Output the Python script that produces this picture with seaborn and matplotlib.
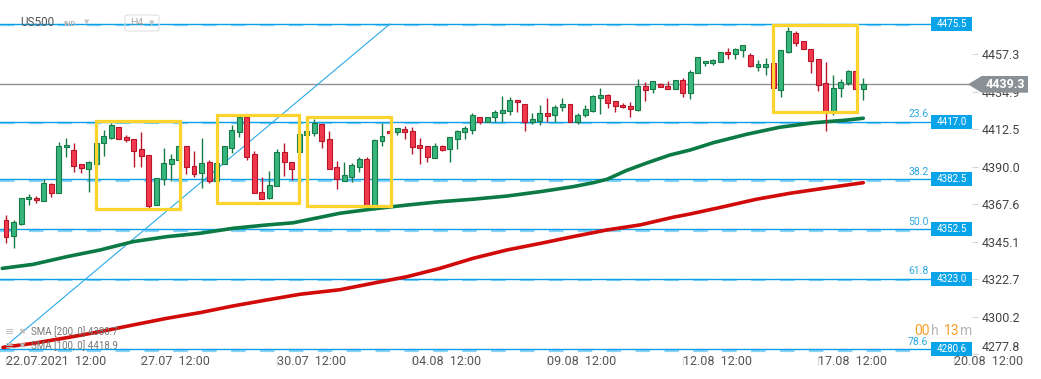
import matplotlib
matplotlib.use("Agg")
import matplotlib.pyplot as plt
from matplotlib.patches import Rectangle, Polygon, FancyBboxPatch
from matplotlib.transforms import blended_transform_factory
import seaborn as sns
import numpy as np
import pandas as pd

# US500, H4 candles from 22.07.2021 12:00 (index 0 = first candle)
opens = [4358.1, 4348.5, 4355.8, 4370.5, 4371.2, 4369.3, 4379.4, 4374.1, 4401.6, 4399.8,
         4391.4, 4388.4, 4391.4, 4404.0, 4407.0, 4413.6, 4407.6, 4406.4, 4400.4, 4396.8,
         4366.9, 4382.4, 4391.4, 4394.0, 4402.4, 4390.2, 4386.0, 4392.6, 4381.2, 4391.4,
         4401.4, 4410.9, 4419.6, 4397.4, 4374.6, 4371.0, 4378.2, 4398.6, 4392.6, 4398.6,
         4408.8, 4410.3, 4415.6, 4406.4, 4389.6, 4381.6, 4384.0, 4390.0, 4394.4, 4365.1,
         4405.2, 4411.4, 4410.6, 4412.4, 4411.4, 4402.8, 4402.2, 4395.0, 4402.2, 4400.4,
         4406.4, 4410.9, 4412.1, 4419.9, 4416.6, 4419.6, 4422.0, 4423.2, 4430.1, 4427.3,
         4416.7, 4417.5, 4422.0, 4420.8, 4425.6, 4427.3, 4416.7, 4420.8, 4423.5, 4431.3,
         4432.7, 4429.1, 4426.7, 4426.1, 4423.9, 4438.5, 4436.3, 4439.3, 4438.3, 4436.7,
         4441.9, 4434.0, 4445.9, 4451.9, 4451.9, 4452.5, 4458.7, 4457.3, 4459.7, 4456.9,
         4449.5, 4449.9, 4451.9, 4436.1, 4458.7, 4469.9, 4465.1, 4460.3, 4454.3, 4439.9,
         4423.5, 4437.3, 4440.3, 4447.3, 4436.3]
highs = [4361.1, 4358.1, 4371.1, 4373.5, 4372.3, 4382.4, 4380.2, 4404.6, 4407.2, 4404.0,
         4391.4, 4393.4, 4404.0, 4412.0, 4416.3, 4413.6, 4409.0, 4406.4, 4410.8, 4396.8,
         4383.0, 4401.2, 4397.4, 4402.4, 4402.4, 4399.4, 4407.2, 4393.8, 4392.0, 4402.2,
         4415.0, 4419.6, 4419.6, 4399.4, 4383.6, 4387.6, 4400.4, 4404.2, 4392.6, 4409.6,
         4411.2, 4418.4, 4415.6, 4411.4, 4393.4, 4392.8, 4392.0, 4396.0, 4396.0, 4406.6,
         4416.1, 4411.4, 4413.0, 4414.4, 4413.6, 4407.2, 4402.2, 4404.2, 4403.0, 4408.0,
         4412.0, 4414.5, 4422.3, 4419.9, 4419.9, 4424.0, 4432.3, 4431.5, 4430.1, 4427.3,
         4422.0, 4426.9, 4431.0, 4426.9, 4431.0, 4427.3, 4422.3, 4426.9, 4432.9, 4437.1,
         4433.5, 4429.1, 4427.9, 4428.7, 4442.3, 4440.7, 4441.1, 4440.0, 4441.1, 4441.7,
         4442.9, 4447.9, 4455.5, 4453.1, 4454.5, 4458.5, 4460.9, 4461.1, 4462.9, 4458.1,
         4453.9, 4455.1, 4451.9, 4459.7, 4473.8, 4471.1, 4465.1, 4460.3, 4454.3, 4452.7,
         4444.9, 4442.3, 4447.9, 4447.3, 4442.9]
lows = [4344.1, 4341.5, 4355.1, 4367.0, 4368.1, 4369.3, 4372.0, 4374.1, 4396.0, 4387.0,
        4386.4, 4375.0, 4391.4, 4396.6, 4406.4, 4406.4, 4404.6, 4390.0, 4390.0, 4365.4,
        4366.9, 4379.0, 4381.6, 4394.0, 4385.6, 4383.6, 4377.2, 4380.0, 4381.2, 4391.4,
        4398.0, 4407.9, 4394.0, 4374.1, 4370.6, 4370.5, 4378.2, 4384.6, 4382.0, 4398.6,
        4408.8, 4408.4, 4401.4, 4388.8, 4376.8, 4381.6, 4381.0, 4387.0, 4366.0, 4364.1,
        4402.6, 4410.2, 4409.1, 4406.7, 4397.6, 4391.4, 4393.0, 4395.0, 4399.6, 4393.0,
        4400.8, 4406.6, 4409.6, 4415.4, 4416.6, 4416.9, 4416.9, 4421.1, 4422.9, 4411.5,
        4415.5, 4415.1, 4416.6, 4416.9, 4423.5, 4416.7, 4415.5, 4419.6, 4422.9, 4421.7,
        4425.0, 4422.9, 4425.0, 4419.9, 4423.5, 4429.3, 4434.3, 4437.5, 4436.7, 4436.7,
        4431.9, 4430.3, 4445.9, 4450.5, 4451.0, 4452.5, 4454.3, 4454.3, 4455.5, 4449.5,
        4447.5, 4445.1, 4436.9, 4431.9, 4458.2, 4462.3, 4460.3, 4446.3, 4435.5, 4411.5,
        4420.9, 4431.9, 4438.9, 4436.3, 4429.9]
closes = [4347.7, 4356.7, 4371.1, 4371.8, 4369.9, 4380.2, 4374.1, 4402.2, 4403.0, 4390.2,
          4389.0, 4392.6, 4404.0, 4408.4, 4415.0, 4406.7, 4405.8, 4399.2, 4396.2, 4366.6,
          4383.0, 4392.0, 4394.4, 4402.4, 4389.6, 4385.6, 4392.2, 4381.2, 4392.0, 4402.2,
          4412.0, 4419.6, 4396.0, 4374.1, 4370.6, 4379.0, 4398.6, 4392.6, 4388.8, 4409.6,
          4411.2, 4416.0, 4405.5, 4388.8, 4382.8, 4384.8, 4390.8, 4394.4, 4366.0, 4406.0,
          4408.2, 4410.2, 4413.0, 4410.6, 4401.6, 4401.4, 4395.6, 4402.2, 4400.0, 4407.6,
          4411.4, 4413.0, 4420.9, 4416.6, 4419.9, 4422.6, 4424.0, 4430.1, 4428.5, 4416.7,
          4418.4, 4422.0, 4420.3, 4425.6, 4427.3, 4416.7, 4420.8, 4424.4, 4432.1, 4432.7,
          4428.3, 4426.5, 4425.6, 4424.4, 4438.5, 4435.9, 4441.1, 4437.9, 4436.7, 4441.7,
          4434.0, 4446.5, 4455.5, 4453.1, 4453.9, 4458.5, 4457.3, 4460.5, 4462.9, 4450.3,
          4451.3, 4451.3, 4436.9, 4459.7, 4471.1, 4464.2, 4460.3, 4453.5, 4438.9, 4423.5,
          4436.9, 4440.7, 4447.3, 4436.3, 4439.3]

# moving averages (candle index, price)
sma100_x = [-0.5, 3.6, 8.1, 12.5, 16.9, 21.4, 25.8, 30.2, 34.7, 38.2, 44.4, 48.8, 53.3,
            57.7, 62.1, 66.6, 71.0, 75.4, 78.1, 79.9, 82.5, 85.2, 88.3, 91.0, 94.1, 98.5,
            102.9, 107.4, 111.8, 114.0]
sma100_y = [4329.1, 4331.5, 4336.1, 4340.1, 4345.1, 4348.1, 4350.1, 4353.1, 4355.1, 4356.4,
            4362.1, 4364.7, 4367.0, 4369.0, 4370.5, 4372.4, 4375.0, 4378.0, 4380.4, 4382.4,
            4387.7, 4392.2, 4397.0, 4400.0, 4404.4, 4409.4, 4413.6, 4416.3, 4417.9, 4419.0]
sma200_x = [-0.4, 3.6, 8.1, 12.5, 16.9, 21.4, 25.8, 30.2, 34.7, 39.1, 44.4, 48.8, 53.3,
            57.7, 62.1, 66.6, 71.0, 75.4, 79.9, 84.3, 88.7, 91.0, 95.4, 99.8, 104.3, 108.7,
            114.0]
sma200_y = [4281.8, 4284.2, 4287.6, 4291.2, 4295.2, 4299.2, 4302.6, 4306.6, 4310.2, 4313.6,
            4316.3, 4320.2, 4324.1, 4329.1, 4335.1, 4340.1, 4344.0, 4348.1, 4352.1, 4355.1,
            4359.7, 4361.7, 4366.0, 4370.5, 4374.1, 4377.0, 4380.4]

fib_levels = [4475.5, 4417.0, 4382.5, 4352.5, 4323.0, 4280.6]
fib_ratios = ["", "23.6", "38.2", "50.0", "61.8", "78.6"]

x_ticks = [0, 18, 36, 54, 72, 90, 108, 126]
x_labels = ["22.07.2021  12:00", "27.07  12:00", "30.07  12:00", "04.08  12:00",
            "09.08  12:00", "12.08  12:00", "17.08  12:00", "20.08  12:00"]
y_ticks = [4457.3, 4434.9, 4412.5, 4390.0, 4367.6, 4345.1, 4322.7, 4300.2, 4277.8]

# highlighted consolidation zones: (x from, x to, price low, price high)
zones = [(11.97, 23.14, 4364.5, 4417.5),
         (28.1, 38.96, 4368.1, 4420.8),
         (39.99, 51.16, 4366.6, 4419.9),
         (101.95, 113.12, 4422.7, 4474.8)]

trend_x = [-0.57, 51.06]
trend_y = [fib_levels[-1], fib_levels[0]]
last_price = 4439.3
sma_labels = ["SMA [200, 0] 4380.7", "SMA [100, 0] 4418.9"]

sns.set_theme(style="white")
plt.rcParams['font.family'] = ['Roboto', 'DejaVu Sans']

W, H = 1041, 379
fig = plt.figure(figsize=(W / 100, H / 100), dpi=100)
ax_bottom_px = 356
ax = fig.add_axes([0, (H - ax_bottom_px) / H, 972 / W, ax_bottom_px / H])
ax.set_xlim(-0.8, 128.46)
ax.set_ylim(4489.8 - 0.5988 * ax_bottom_px, 4489.8)
for s in ax.spines.values():
    s.set_visible(False)

def fpx(x, y):
    return x / W, 1 - y / H

blend = blended_transform_factory(ax.transAxes, ax.transData)

# fibonacci / level lines
for lvl, r in zip(fib_levels, fib_ratios):
    ax.axhline(lvl - 0.9, xmin=0, xmax=0.95, color="#8ad4f6", lw=1.6,
               linestyle=(0, (6.5, 6.5)), zorder=1)
    ax.axhline(lvl, xmin=0, xmax=0.958, color="#0a9fe6", lw=1.0, zorder=1.2)
    ax.add_patch(Rectangle((0.958, lvl - 4.2), 0.042, 8.4, transform=blend,
                           facecolor="#09a3ea", edgecolor="none", zorder=6, clip_on=False))
    ax.text(0.979, lvl, f"{lvl:.1f}", transform=blend, ha="center", va="center",
            color="white", fontsize=7, zorder=7)
    if r:
        ax.text(0.955, lvl + 1.6, r, transform=blend, ha="right", va="bottom",
                color="#2aa7e1", fontsize=7.5, zorder=7)

# current price line
ax.axhline(last_price, color="#8c9298", lw=1.0, zorder=1.1)

# trend line
ax.plot(trend_x, trend_y, color="#2aaae9", lw=0.8, zorder=1.3)

# moving averages
sns.lineplot(x=sma100_x, y=sma100_y, color="#0b7a45", linewidth=2.6, ax=ax,
             legend=False, zorder=2)
sns.lineplot(x=sma200_x, y=sma200_y, color="#d10a0a", linewidth=2.6, ax=ax,
             legend=False, zorder=2)

# candles
df = pd.DataFrame({"o": opens, "h": highs, "l": lows, "c": closes})
df["i"] = np.arange(len(df))
up = (df["c"] >= df["o"]).values
ax.vlines(df["i"], df["l"], df["h"], colors=np.where(up, "#167a47", "#b8152a"),
          lw=1.0, zorder=3)
body_low = df[["o", "c"]].min(axis=1)
body_h = (df["c"] - df["o"]).abs().clip(lower=0.7)
ax.bar(df["i"], body_h, bottom=body_low, width=0.66,
       color=np.where(up, "#36b57c", "#f2394c"),
       edgecolor=np.where(up, "#157a46", "#b8152a"), linewidth=0.8, zorder=4)

# yellow zones
for x0, x1, y0, y1 in zones:
    ax.add_patch(Rectangle((x0, y0), x1 - x0, y1 - y0, fill=False,
                           edgecolor="#fdd42e", lw=2.3, zorder=5))

# axes ticks
ax.yaxis.tick_right()
ax.set_yticks(y_ticks)
ylabs = ax.set_yticklabels([f"{v:.1f}" for v in y_ticks])
ylabs[-1].set_va("bottom")   # lowest label is pushed up, as on the platform
ax.tick_params(axis="y", length=4, width=0.8, color="#d5d5d5", labelsize=9,
               labelcolor="#444444", pad=3, right=True, left=False)
ax.set_xticks(x_ticks)
ax.set_xticklabels(x_labels, ha="left")
ax.tick_params(axis="x", length=6.5, width=0.8, color="#d8d8d8", labelsize=9,
               labelcolor="#555555", pad=-7, bottom=True)
ax.grid(False)

# current price tag
tag_h = 5.0
tag = Polygon([(968 / 972, last_price), (981.7 / 972, last_price + tag_h),
               (1028 / 972, last_price + tag_h), (1028 / 972, last_price - tag_h),
               (981.7 / 972, last_price - tag_h)], closed=True, transform=blend,
              facecolor="#8a9196", edgecolor="none", zorder=10, clip_on=False)
ax.add_patch(tag)
ax.text(1005 / 972, last_price, f"{last_price:.1f}", transform=blend, ha="center",
        va="center", color="white", fontsize=9, fontweight="bold", zorder=11,
        clip_on=False)

# header
fig.text(*fpx(20, 23), "US500", ha="left", va="center", fontsize=8.5, color="#555555")
fig.text(*fpx(64, 24), "IND", ha="left", va="center", fontsize=5.5,
         fontweight="bold", color="#b5b5b5")
fig.text(*fpx(84, 22), "▼", ha="left", va="center", fontsize=5, color="#c5c5c5",
         family=["DejaVu Sans"])
fig.patches.append(FancyBboxPatch(fpx(125, 31), 34 / W, 16 / H,
                                  boxstyle="round,pad=0,rounding_size=0.004",
                                  transform=fig.transFigure, facecolor="none",
                                  edgecolor="#e2e2e2", lw=0.8))
fig.text(*fpx(130, 23), "H4", ha="left", va="center", fontsize=7.5, color="#aaaaaa")
fig.text(*fpx(149, 23), "▼", ha="left", va="center", fontsize=5, color="#c5c5c5",
         family=["DejaVu Sans"])

# indicator legend
for k, lab in enumerate(sma_labels):
    yy = 332 + 14 * k
    fig.text(*fpx(5, yy), "≡", ha="left", va="center", fontsize=8, color="#bdbdbd",
             family=["DejaVu Sans"])
    fig.text(*fpx(18, yy), "✖", ha="left", va="center", fontsize=6, color="#bdbdbd",
             family=["DejaVu Sans"])
    fig.text(*fpx(31, yy), lab, ha="left", va="center", fontsize=7, color="#777777")

# candle timer
for xx, s, col in [(914, "00", "#f7a02a"), (931, "h", "#b5b5b5"),
                   (944, "13", "#f7a02a"), (960, "m", "#b5b5b5")]:
    fig.text(*fpx(xx, 331), s, ha="left", va="center", fontsize=10, color=col)

fig.savefig("out.png", dpi=100)
